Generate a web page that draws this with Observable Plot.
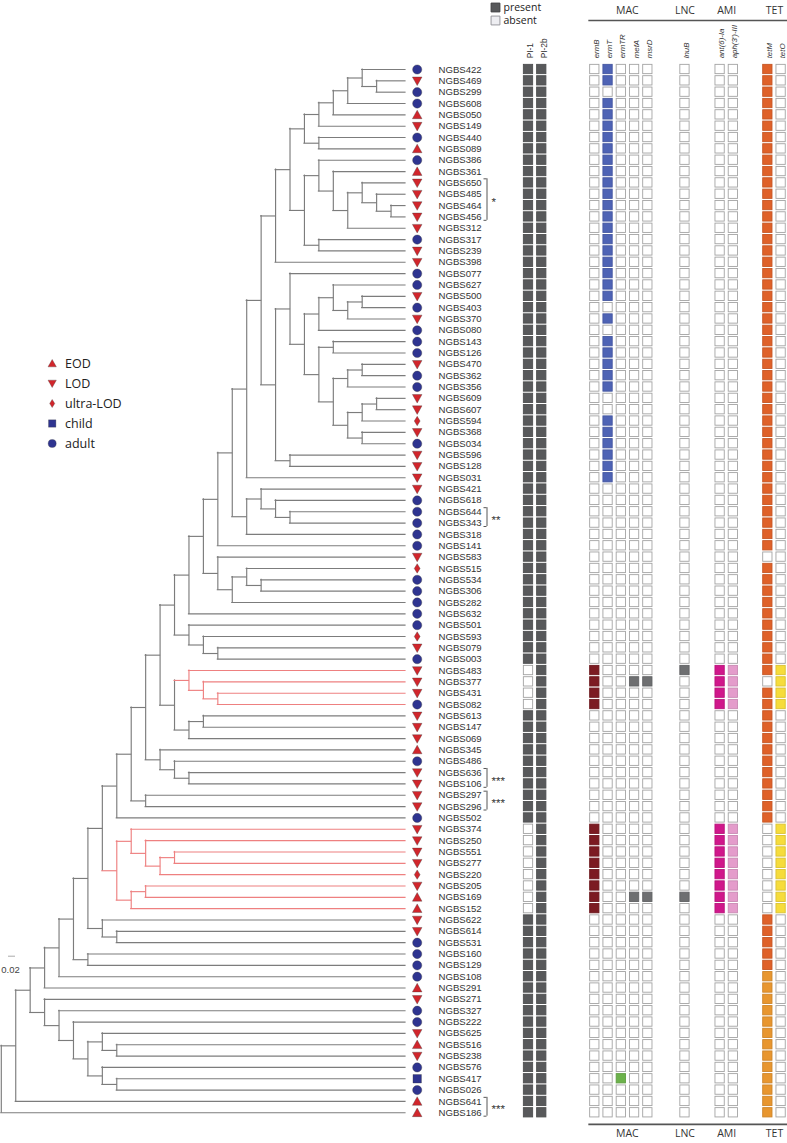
<!DOCTYPE html>
<html><head><meta charset="utf-8">
<script src="https://cdn.jsdelivr.net/npm/d3@7"></script>
<script src="https://cdn.jsdelivr.net/npm/@observablehq/plot@0.6"></script>
<style>
html,body{margin:0;padding:0;background:#fff;}
#chart{position:relative;width:787px;height:1143px;overflow:hidden;background:#fff;}
#chart > svg{position:absolute;}
</style></head><body><div id="chart"></div>
<script>
// ================= DATA =================
const strains = [
"NGBS422","NGBS469","NGBS299","NGBS608","NGBS050","NGBS149","NGBS440","NGBS089","NGBS386","NGBS361",
"NGBS650","NGBS485","NGBS464","NGBS456","NGBS312","NGBS317","NGBS239","NGBS398","NGBS077","NGBS627",
"NGBS500","NGBS403","NGBS370","NGBS080","NGBS143","NGBS126","NGBS470","NGBS362","NGBS356","NGBS609",
"NGBS607","NGBS594","NGBS368","NGBS034","NGBS596","NGBS128","NGBS031","NGBS421","NGBS618","NGBS644",
"NGBS343","NGBS318","NGBS141","NGBS583","NGBS515","NGBS534","NGBS306","NGBS282","NGBS632","NGBS501",
"NGBS593","NGBS079","NGBS003","NGBS483","NGBS377","NGBS431","NGBS082","NGBS613","NGBS147","NGBS069",
"NGBS345","NGBS486","NGBS636","NGBS106","NGBS297","NGBS296","NGBS502","NGBS374","NGBS250","NGBS551",
"NGBS277","NGBS220","NGBS205","NGBS169","NGBS152","NGBS622","NGBS614","NGBS531","NGBS160","NGBS129",
"NGBS108","NGBS291","NGBS271","NGBS327","NGBS222","NGBS625","NGBS516","NGBS238","NGBS576","NGBS417",
"NGBS026","NGBS641","NGBS186"];

const hostGroup = [
"adult","LOD","adult","adult","EOD","LOD","adult","EOD","adult","EOD",
"LOD","LOD","LOD","LOD","LOD","adult","LOD","LOD","adult","adult",
"LOD","adult","LOD","adult","adult","adult","LOD","adult","adult","LOD",
"LOD","ultra-LOD","LOD","adult","LOD","LOD","LOD","LOD","adult","adult",
"adult","adult","adult","LOD","ultra-LOD","adult","adult","adult","adult","adult",
"ultra-LOD","LOD","adult","LOD","LOD","LOD","adult","LOD","LOD","LOD",
"EOD","adult","LOD","LOD","LOD","LOD","adult","LOD","LOD","LOD",
"LOD","ultra-LOD","LOD","EOD","EOD","LOD","LOD","adult","adult","adult",
"adult","EOD","LOD","adult","adult","LOD","EOD","LOD","adult","child",
"adult","EOD","EOD"];

const hostTypes = ["EOD","LOD","ultra-LOD","child","adult"];

// tree topology (nested clades)
const cladeTopA = [[[[["NGBS422",["NGBS469","NGBS299"]],"NGBS608"],"NGBS050"],"NGBS149"],["NGBS440","NGBS089"]];
const cladeTopB = [["NGBS386",["NGBS361",[["NGBS650",["NGBS485",["NGBS464","NGBS456"]]],"NGBS312"]]],["NGBS317","NGBS239"]];
const cladeErmT1 = [[["NGBS627",[["NGBS500","NGBS403"],"NGBS370"]],"NGBS080"],[["NGBS143","NGBS126"],[[["NGBS470","NGBS362"],"NGBS356"],[[["NGBS609","NGBS607"],"NGBS594"],["NGBS368","NGBS034"]]]]];
const cladeErmT2 = [["NGBS077",cladeErmT1],["NGBS596","NGBS128"]];
const cladeUpper = [[[[cladeTopA,cladeTopB],"NGBS398"],cladeErmT2],"NGBS031"];
const clade421 = [["NGBS421",["NGBS618",["NGBS644","NGBS343"]]],"NGBS318"];
const clade583 = ["NGBS583",[["NGBS515",["NGBS534","NGBS306"]],"NGBS282"]];
const clade501 = ["NGBS501",["NGBS593",["NGBS079","NGBS003"]]];
const cladeRedA = ["NGBS483",["NGBS377",["NGBS431","NGBS082"]]];
const clade613 = [["NGBS613","NGBS147"],"NGBS069"];
const clade345 = ["NGBS345",["NGBS486",["NGBS636","NGBS106"]]];
const cladeRedB = [["NGBS374",["NGBS250",[["NGBS551","NGBS277"],"NGBS220"]]],[["NGBS205","NGBS169"],"NGBS152"]];
const clade622 = ["NGBS622",["NGBS614","NGBS531"]];
const clade271 = ["NGBS271",["NGBS327",["NGBS222",[["NGBS625",["NGBS516","NGBS238"]],["NGBS576",["NGBS417","NGBS026"]]]]]];
const cladeMain = [[[[[[[[[[[[[[cladeUpper,clade421],"NGBS141"],clade583],"NGBS632"],clade501],[cladeRedA,clade613]],clade345],["NGBS297","NGBS296"]],"NGBS502"],cladeRedB],clade622],["NGBS160","NGBS129"]],"NGBS108"],"NGBS291"];
const tree = [[[cladeMain,clade271],"NGBS641"],"NGBS186"];

const redLineStrains = ["NGBS483","NGBS377","NGBS431","NGBS082","NGBS374","NGBS250","NGBS551","NGBS277","NGBS220","NGBS205","NGBS169","NGBS152"];

const brackets = [
  {from:"NGBS650", to:"NGBS456", label:"*"},
  {from:"NGBS644", to:"NGBS343", label:"**"},
  {from:"NGBS636", to:"NGBS106", label:"***"},
  {from:"NGBS297", to:"NGBS296", label:"***"},
  {from:"NGBS641", to:"NGBS186", label:"***"}
];

const columns = ["PI-1","PI-2b","ermB","ermT","ermTR","mefA","msrD","lnuB","ant(6)-Ia","aph(3')-III","tetM","tetO"];
const columnGroups = ["PI","PI","MAC","MAC","MAC","MAC","MAC","LNC","AMI","AMI","TET","TET"];
const labelledGroups = ["MAC","LNC","AMI","TET"];

const absentPI1 = ["NGBS483","NGBS377","NGBS431","NGBS082","NGBS374","NGBS250","NGBS551","NGBS277","NGBS220","NGBS205","NGBS169","NGBS152"];
const absentPI2b = [];
const carriersErmB = ["NGBS483","NGBS377","NGBS431","NGBS082","NGBS374","NGBS250","NGBS551","NGBS277","NGBS220","NGBS205","NGBS169","NGBS152"];
const carriersErmT = ["NGBS422","NGBS469","NGBS608","NGBS050","NGBS149","NGBS440","NGBS089","NGBS386","NGBS361","NGBS650","NGBS485","NGBS464","NGBS456","NGBS312","NGBS317","NGBS239","NGBS398","NGBS077","NGBS627","NGBS500","NGBS370","NGBS143","NGBS126","NGBS470","NGBS362","NGBS356","NGBS594","NGBS368","NGBS034","NGBS596","NGBS128","NGBS031"];
const carriersErmTR = ["NGBS417"];
const carriersMefA = ["NGBS377","NGBS169"];
const carriersMsrD = ["NGBS377","NGBS169"];
const carriersLnuB = ["NGBS483","NGBS169"];
const carriersAnt6 = ["NGBS483","NGBS377","NGBS431","NGBS082","NGBS374","NGBS250","NGBS551","NGBS277","NGBS220","NGBS205","NGBS169","NGBS152"];
const carriersAph3 = ["NGBS483","NGBS377","NGBS431","NGBS082","NGBS374","NGBS250","NGBS551","NGBS277","NGBS220","NGBS205","NGBS169","NGBS152"];
const absentTetM = ["NGBS583","NGBS377","NGBS374","NGBS250","NGBS551","NGBS277","NGBS220","NGBS205","NGBS169","NGBS152"];
const tetMVariant2 = ["NGBS108","NGBS291","NGBS271","NGBS327","NGBS222","NGBS625","NGBS516","NGBS238","NGBS576","NGBS417","NGBS026","NGBS641","NGBS186"];
const carriersTetO = ["NGBS483","NGBS377","NGBS431","NGBS082","NGBS374","NGBS250","NGBS551","NGBS277","NGBS220","NGBS205","NGBS169","NGBS152"];

const presenceLegend = ["present","absent"];
const scaleBarValue = 0.02;

// ================= STYLE / LAYOUT =================
const FONT = "'Liberation Sans', Arial, sans-serif";
const FONT2 = "'Open Sans', 'Liberation Sans', sans-serif";
const GRAY_LINE = "#7c7c7c", RED_LINE = "#ee8080";
const RED = "#d1262c", BLUE = "#2e3490";
const colPI = "#58595b";
const columnColors = {"PI-1":colPI,"PI-2b":colPI,"ermB":"#7c1b22","ermT":"#4e63b5","ermTR":"#6cb24b","mefA":"#6e6f71","msrD":"#6e6f71","lnuB":"#6e6f71","ant(6)-Ia":"#d0178b","aph(3')-III":"#e49ccb","tetM":"#df6129","tetO":"#f6dc3b"};
const tetM2Color = "#e8962f";
const groupGap = {MAC: 3, LNC: 1.8, AMI: 1.65, TET: 1.6};

const H = 1143, MT = 63.33, MB = 25.05;

function symR(size){ return Math.sqrt(size/Math.PI); }
const symbolShapes = [
  {draw(c,s){const r=symR(s); c.moveTo(0,-r*1.0); c.lineTo(r*1.02,r*0.82); c.lineTo(-r*1.02,r*0.82); c.closePath();}},
  {draw(c,s){const r=symR(s); c.moveTo(0,r*1.0); c.lineTo(r*1.02,-r*0.82); c.lineTo(-r*1.02,-r*0.82); c.closePath();}},
  {draw(c,s){const r=symR(s); c.moveTo(0,-r); c.lineTo(r*0.62,0); c.lineTo(0,r); c.lineTo(-r*0.62,0); c.closePath();}},
  {draw(c,s){const r=symR(s), h=r*0.9; c.rect(-h,-h,2*h,2*h);}},
  {draw(c,s){const r=symR(s)*0.98; c.moveTo(r,0); c.arc(0,0,r,0,2*Math.PI);}}
];
const symbolColors = [RED, RED, RED, BLUE, BLUE];

// ================= TREE LAYOUT =================
const rowOf = new Map(strains.map((s,i)=>[s,i]));
const redSet = new Set(redLineStrains);
function build(n, depth){
  if (Array.isArray(n)) return {depth, children: n.map(c=>build(c, depth+1))};
  return {depth, name: n};
}
const root = build(tree, 0);
let maxInternal = 0;
(function md(n){ if(n.children){ maxInternal=Math.max(maxInternal,n.depth); n.children.forEach(md);} })(root);
const TIP = maxInternal + 1;
const leafOrder = [];
(function place(n){
  if(n.children){ n.children.forEach(place); n.y=(n.children[0].y+n.children[n.children.length-1].y)/2; n.red=n.children.every(c=>c.red); }
  else { n.y=rowOf.get(n.name); n.red=redSet.has(n.name); leafOrder.push(n.name); }
})(root);
if (leafOrder.join()!==strains.join()) console.warn("leaf order mismatch");
const hSegs=[], vSegs=[];
(function segs(n,p){
  if(p) hSegs.push({x1:p.depth, x2:n.children?n.depth:TIP, y:n.y, red:n.red});
  if(n.children){ vSegs.push({x:n.depth, y1:n.children[0].y, y2:n.children[n.children.length-1].y, red:n.red}); n.children.forEach(c=>segs(c,n)); }
})(root,null);

const leaves = strains.map((s,i)=>({name:s, row:i, group:hostGroup[i]}));
const tipPx = 405, leftPx = 0.8, treeW = 520;
const depthPx = (tipPx-leftPx)/TIP;
const bracketRows = brackets.map(b=>({...b, r1: rowOf.get(b.from), r2: rowOf.get(b.to)}));
const bracketTicks = bracketRows.flatMap(b=>[{y:b.r1-0.36},{y:b.r2+0.3}]);

const lineOpts = {strokeWidth:1.15, strokeLinecap:"square"};
const treePlot = Plot.plot({
  width: treeW, height: H, marginLeft: leftPx, marginRight: treeW-tipPx, marginTop: MT, marginBottom: MB,
  x: {domain:[0,TIP], axis:null},
  y: {domain:[-0.5, strains.length-0.5], reverse:true, axis:null},
  symbol: {domain: hostTypes, range: symbolShapes},
  color: {domain: hostTypes, range: symbolColors},
  style: {background:"transparent", overflow:"visible", fontFamily: FONT},
  marks: [
    Plot.ruleY(hSegs.filter(d=>!d.red), {x1:"x1", x2:"x2", y:"y", stroke:GRAY_LINE, ...lineOpts}),
    Plot.ruleX(vSegs.filter(d=>!d.red), {x:"x", y1:"y1", y2:"y2", stroke:GRAY_LINE, ...lineOpts}),
    Plot.ruleY(hSegs.filter(d=>d.red), {x1:"x1", x2:"x2", y:"y", stroke:RED_LINE, ...lineOpts}),
    Plot.ruleX(vSegs.filter(d=>d.red), {x:"x", y1:"y1", y2:"y2", stroke:RED_LINE, ...lineOpts}),
    Plot.dot(leaves, {x:()=>TIP, y:"row", symbol:"group", fill:"group", r:4.7, dx:11.7, stroke:"#3a3a3a", strokeWidth:0.35}),
    Plot.text(leaves, {x:()=>TIP, y:"row", text:"name", dx:33, textAnchor:"start", fontSize:9.6, fill:"#333", fontFamily:FONT}),
    Plot.ruleX(bracketRows, {x:()=>TIP, y1:d=>d.r1-0.36, y2:d=>d.r2+0.3, dx:81.5, stroke:"#444", strokeWidth:0.9}),
    Plot.ruleY(bracketTicks, {x1:()=>TIP, x2:()=>TIP+3/depthPx, y:"y", dx:78.5, stroke:"#444", strokeWidth:0.9}),
    Plot.text(bracketRows, {x:()=>TIP, y:d=>(d.r1+d.r2)/2, text:"label", dx:86, dy:2.6, textAnchor:"start", fontSize:11.5, fill:"#333", fontFamily:FONT})
  ]
});
treePlot.style.left = "0px"; treePlot.style.top = "0px";

// ================= MATRIX =================
const slots = []; { let s = -1; columns.forEach((c,j)=>{ s += 1; if (j>0 && columnGroups[j]!==columnGroups[j-1]) s += groupGap[columnGroups[j]]; slots.push(s); }); }
const lastSlot = slots[slots.length-1];
function cellColor(col, s){
  switch(col){
    case "PI-1": return absentPI1.includes(s)?null:columnColors[col];
    case "PI-2b": return absentPI2b.includes(s)?null:columnColors[col];
    case "ermB": return carriersErmB.includes(s)?columnColors[col]:null;
    case "ermT": return carriersErmT.includes(s)?columnColors[col]:null;
    case "ermTR": return carriersErmTR.includes(s)?columnColors[col]:null;
    case "mefA": return carriersMefA.includes(s)?columnColors[col]:null;
    case "msrD": return carriersMsrD.includes(s)?columnColors[col]:null;
    case "lnuB": return carriersLnuB.includes(s)?columnColors[col]:null;
    case "ant(6)-Ia": return carriersAnt6.includes(s)?columnColors[col]:null;
    case "aph(3')-III": return carriersAph3.includes(s)?columnColors[col]:null;
    case "tetM": return absentTetM.includes(s)?null:(tetMVariant2.includes(s)?tetM2Color:columnColors[col]);
    case "tetO": return carriersTetO.includes(s)?columnColors[col]:null;
  }
}
const cells = [];
strains.forEach((s,i)=>columns.forEach((c,j)=>{
  const f = cellColor(c,s);
  cells.push({row:i, slot:slots[j], fill: f || "#ffffff", stroke: f ? d3.color(f).darker(0.35).formatHex() : "#a3a3a3"});
}));
const colData = columns.map((c,j)=>({name:c, slot:slots[j], group:columnGroups[j]}));
const groupData = labelledGroups.map(g=>{ const ss = colData.filter(d=>d.group===g).map(d=>d.slot); return {name:g, center:d3.mean(ss)}; });
const firstGeneSlot = slots[2], lineEnd = lastSlot + 0.7;
const matW = 297, matLeft = 490, firstColPx = 528 - matLeft, lastColPx = 780.6 - matLeft;
const headerLineRow = -4.32, footerLineRow = 93.03;

const matrixPlot = Plot.plot({
  width: matW, height: H, marginLeft: firstColPx, marginRight: matW-lastColPx, marginTop: MT, marginBottom: MB,
  x: {domain:[0,lastSlot], axis:null},
  y: {domain:[-0.5, strains.length-0.5], reverse:true, axis:null},
  color: {type:"identity"},
  style: {background:"transparent", overflow:"visible", fontFamily: FONT},
  marks: [
    Plot.rect(cells, {x1:d=>d.slot-0.35, x2:d=>d.slot+0.35, y1:d=>d.row-0.41, y2:d=>d.row+0.41, fill:"fill", stroke:"stroke", strokeWidth:0.9}),
    Plot.text(colData.filter(d=>d.group==="PI"), {x:"slot", frameAnchor:"top", dy:-5.5, dx:-1, rotate:-90, textAnchor:"start", text:"name", fontSize:8.4, fill:"#333", fontFamily:FONT}),
    Plot.text(colData.filter(d=>d.group!=="PI"), {x:"slot", frameAnchor:"top", dy:-5.5, dx:-1.6, rotate:-90, textAnchor:"start", text:"name", fontSize:7.9, fill:"#333", fontStyle:"italic", fontFamily:FONT}),
    Plot.text(groupData.filter(d=>d.name==="MAC"), {x:"center", frameAnchor:"top", dy:-57, dx:6, text:"name", fontSize:10.5, fill:"#333", fontFamily:FONT2}),
    Plot.text(groupData.filter(d=>d.name!=="MAC"), {x:"center", frameAnchor:"top", dy:-57, text:"name", fontSize:10.5, fill:"#333", fontFamily:FONT2}),
    Plot.text(groupData.filter(d=>d.name==="MAC"), {x:"center", frameAnchor:"bottom", dy:19, dx:6, text:"name", fontSize:10.5, fill:"#333", fontFamily:FONT2}),
    Plot.text(groupData.filter(d=>d.name!=="MAC"), {x:"center", frameAnchor:"bottom", dy:19, text:"name", fontSize:10.5, fill:"#333", fontFamily:FONT2}),
    Plot.ruleY([headerLineRow, footerLineRow], {x1:firstGeneSlot-0.45, x2:lineEnd, stroke:"#555", strokeWidth:1.7})
  ]
});
matrixPlot.style.left = matLeft + "px"; matrixPlot.style.top = "0px";

// ================= LEGENDS =================
const symLegend = Plot.plot({
  width: 140, height: 100, margin: 0,
  y: {type:"point", domain: hostTypes, padding:0.5, axis:null},
  symbol: {domain: hostTypes, range: symbolShapes},
  color: {domain: hostTypes, range: symbolColors},
  style: {background:"transparent", overflow:"visible"},
  marks: [
    Plot.dot(hostTypes, {y:d=>d, frameAnchor:"left", dx:51.7, symbol:d=>d, fill:d=>d, r:4.1, stroke:"#3a3a3a", strokeWidth:0.3}),
    Plot.text(hostTypes, {y:d=>d, frameAnchor:"left", dx:64.5, text:d=>d, textAnchor:"start", fontSize:12.5, fill:"#222", fontFamily:FONT2})
  ]
});
symLegend.style.left = "0px"; symLegend.style.top = "353px";

const paLegend = Plot.plot({
  width: 80, height: 26, margin: 0,
  y: {type:"point", domain: presenceLegend, padding:0.5, axis:null},
  color: {type:"identity"},
  style: {background:"transparent", overflow:"visible"},
  marks: [
    Plot.dot(presenceLegend, {y:d=>d, frameAnchor:"left", dx:5, symbol:"square", r:5, fill:d=>d==="present"?colPI:"#eeeef2", stroke:d=>d==="present"?"#3c3c3e":"#8f8f95", strokeWidth:0.9}),
    Plot.text(presenceLegend, {y:d=>d, frameAnchor:"left", dx:13, text:d=>d, textAnchor:"start", fontSize:10.5, fill:"#222", fontFamily:FONT2})
  ]
});
paLegend.style.left = "490px"; paLegend.style.top = "0px";

const scaleBar = Plot.plot({
  width: 30, height: 30, marginLeft: 8, marginRight: 15, marginTop: 0, marginBottom: 0,
  x: {domain:[0, scaleBarValue], axis:null},
  y: {domain:[0,1], range:[10.7, 24.5], axis:null},
  style: {background:"transparent", overflow:"visible"},
  marks: [
    Plot.ruleY([0], {x1:0, x2:scaleBarValue, stroke:"#aaa", strokeWidth:1}),
    Plot.text([scaleBarValue], {x:scaleBarValue/2, y:()=>1, dx:-1.5, text:d=>String(d), fontSize:9.5, fill:"#444", fontFamily:FONT})
  ]
});
scaleBar.style.left = "0px"; scaleBar.style.top = "945px";

const chart = document.getElementById("chart");
chart.append(treePlot, matrixPlot, symLegend, paLegend, scaleBar);
</script></body></html>
